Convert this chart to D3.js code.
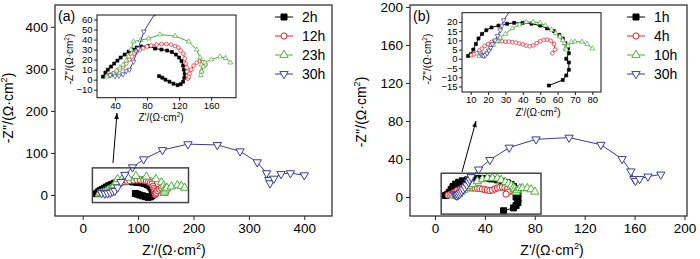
<!DOCTYPE html>
<html>
<head>
<meta charset="utf-8">
<script src="https://cdn.jsdelivr.net/npm/d3@7"></script>
<style>
  body { margin: 0; background: #fff; }
  svg { display: block; }
</style>
</head>
<body>
<div id="container"></div>
<script>
let w = 700;
let h = 259;
let font = "'Liberation Sans', Arial, sans-serif";

// ---- panel (a) data ----
let aLabels = ["2h", "12h", "23h", "30h"];
let a2h = [[25,3],[28,7],[31,10],[35,13],[39,16],[43,19],[47,22],[52,25],[57,28],[62,30],[67,32],[73,33],[82,33.5],[90,31],[98,30],[105,29],[111,27.5],[116,25],[120,22],[123,18.5],[125,14],[126,10],[127,6],[126.5,2],[125,-2],[122,-4.5],[118,-5.5],[113,-4],[108,-2],[103,0],[99,2],[95,3.5]];
let a12h = [[31,4.5],[34,5],[38,6.5],[42,8],[46,10],[50,13],[54,16],[58,20],[61,23],[64,26],[67,28],[71,30],[75,31.5],[80,33],[85,34],[92,35],[98,35.5],[104,35.5],[110,35],[115,33.5],[119,32],[122,29],[125,26],[127,21],[128.5,16],[129.5,12],[130,8],[130.5,4],[131,1],[132,3],[133,6],[135,10],[138,14],[142,17],[146,18.5],[150,17.5],[153,15]];
let a23h = [[30,3],[34,4],[38,6],[42,9],[46,12],[50,14.5],[54,19],[57,23],[60,30],[63,38],[72,39.5],[82,41],[96,45],[115,43.5],[132,38],[142,30],[146,22],[148,15],[148,9],[147,4.5],[148,8],[150,13],[152,17],[160,20],[171,23],[178,21.5],[184,17]];
let a30h = [[34,4.5],[40,3.5],[45,4],[50,5.5],[54,8.5],[58,10],[63,18],[69,31],[76,48],[90,66],[110,85],[144,107],[190,121],[243,119],[284,104],[315,78],[332,52],[336,36],[338,28],[345,39],[358,50],[375,52],[400,47]];
let aMainTicks = [0, 100, 200, 300, 400];
let aInsetXTicks = [40, 80, 120, 160];
let aInsetYTicks = [-10, 0, 10, 20, 30, 40, 50, 60];

// ---- panel (b) data ----
let bLabels = ["1h", "4h", "10h", "30h"];
let b1h = [[8.5,1.5],[10,2.5],[11.5,5],[13,8],[14.5,11],[16.5,13.5],[19,15.5],[22,17],[26,18],[31,19],[35,19.5],[40,19.5],[45,19],[50,18],[54,16.5],[58,15],[61,13],[63,11],[64.5,8.5],[66,5.5],[66.5,3],[65,0],[66.5,-2],[66.5,-6],[65,-9],[63,-11.5],[55,-14.5]];
let b4h = [[10.5,2],[12,2.5],[13.5,3],[15,4.5],[16.5,5.5],[18,7],[20,8],[22,9],[24,9.5],[26,9.5],[28,9.5],[30,9.3],[32,9.3],[34,9],[36,8.8],[38,8.3],[40,7.8],[42,7.2],[44,6.8],[46,7.3],[48,8.5],[50,9.5],[52,10.2],[54,10.4],[56,9.8],[58,8],[58.5,5],[57,3]];
let b10h = [[15,1.5],[17,1.5],[19,3],[21,5.5],[23,7.5],[25,9.5],[27,11.5],[30,13.5],[34,16.5],[38,18.5],[42,20],[46,20],[50,19.5],[53,18],[56.5,15.7],[59,14],[61.3,12],[63,10],[64,8.5],[64.5,5.5],[65,5],[66,7],[68,9],[70,9.3],[74,9.2],[77,8],[80,5.5]];
let b30h = [[15.5,3],[16.5,2],[17.5,1.5],[18.5,2],[19.5,3],[20.5,4.5],[21.5,6],[22.5,8],[24,10],[25.5,12.5],[27,15.5],[28,18],[29,21],[35,29],[44,39],[59.5,52],[81,60.7],[107.5,62.5],[133,55],[150,40],[157,27],[159.5,19],[160.7,17],[164,19],[170.7,21.6],[181,23.7]];
let bMainTicks = [0, 40, 80, 120, 160, 200];
let bInsetXTicks = [10, 20, 30, 40, 50, 60, 70, 80];
let bInsetYTicks = [-15, -10, -5, 0, 5, 10, 15, 20];

let colors = ["#000000", "#ee1c24", "#4caf3a", "#3b3b9b"];
let symTypes = [d3.symbolSquare, d3.symbolCircle, d3.symbolTriangle, d3.symbolTriangle];
let bigSizes = [36, 30, 30, 30];
let smallSizes = [9, 11, 10, 10];

let viz = d3.select("#container").append("svg")
    .attr("width", w)
    .attr("height", h)
    .attr("font-family", font)
;

let clipCount = 0;

function drawSeries(g, data, i, x, y, big) {
  let line = d3.line().x(d => x(d[0])).y(d => y(d[1]));
  g.append("path")
      .datum(data)
      .attr("d", line)
      .attr("fill", "none")
      .attr("stroke", colors[i])
      .attr("stroke-width", 1)
  ;
  let sym = d3.symbol().type(symTypes[i]).size(big ? bigSizes[i] : smallSizes[i]);
  g.selectAll(null).data(data).enter()
    .append("path")
      .attr("d", sym)
      .attr("transform", d => "translate(" + x(d[0]) + "," + y(d[1]) + ")" + (i == 3 ? " rotate(180)" : ""))
      .attr("fill", i == 0 ? colors[0] : "white")
      .attr("stroke", colors[i])
      .attr("stroke-width", big ? 1 : 0.7)
  ;
}

// title like "Z'/(Ω·cm²)" with real superscript
function unitTitle(g, prefix, size, transform) {
  let t = g.append("text")
      .attr("transform", transform)
      .attr("text-anchor", "middle")
      .attr("font-size", size)
      .attr("fill", "#000")
  ;
  t.append("tspan").text(prefix + "/(Ω·cm");
  t.append("tspan").attr("dy", -size * 0.4).attr("font-size", size * 0.65).text("2");
  t.append("tspan").attr("dy", size * 0.4).text(")");
}

function axes(g, x, y, xTicks, yTicks, fs, tick, pad) {
  let r = x.range(), b = y.range();
  let gx = g.append("g")
      .attr("transform", "translate(0," + b[0] + ")")
      .call(d3.axisBottom(x).tickValues(xTicks).tickSize(tick).tickSizeOuter(0).tickPadding(pad));
  let gy = g.append("g")
      .attr("transform", "translate(" + r[0] + ",0)")
      .call(d3.axisLeft(y).tickValues(yTicks).tickSize(tick).tickSizeOuter(0).tickPadding(pad));
  [gx, gy].forEach(function(a) {
    a.attr("font-family", font).attr("font-size", fs);
    a.select(".domain").remove();
    a.selectAll("line").attr("stroke", "#222");
    a.selectAll("text").attr("fill", "#000");
  });
}

function clipRect(x, y) {
  let id = "clip" + (clipCount++);
  viz.append("clipPath").attr("id", id)
    .append("rect")
      .attr("x", x.range()[0]).attr("y", y.range()[1])
      .attr("width", x.range()[1] - x.range()[0])
      .attr("height", y.range()[0] - y.range()[1]);
  return "url(#" + id + ")";
}

function frame(g, x, y, color, sw) {
  g.append("rect")
      .attr("x", x.range()[0]).attr("y", y.range()[1])
      .attr("width", x.range()[1] - x.range()[0])
      .attr("height", y.range()[0] - y.range()[1])
      .attr("fill", "none")
      .attr("stroke", color)
      .attr("stroke-width", sw)
  ;
}

function drawPanel(p) {
  let g = viz.append("g");

  // main plot
  let x = d3.scaleLinear().domain(p.mainX).range([p.left, p.left + 277]);
  let y = d3.scaleLinear().domain(p.mainY).range([216, 5]);
  axes(g, x, y, p.mainTicks, p.mainTicks, 13.5, 4, 3);
  let dg = g.append("g").attr("clip-path", clipRect(x, y));
  p.series.forEach((s, i) => drawSeries(dg, s, i, x, y, true));
  frame(g, x, y, "#333", 1.3);

  // zoom box showing the inset range on the main axes
  g.append("rect")
      .attr("x", x(p.insetX[0])).attr("y", y(p.insetY[1]))
      .attr("width", x(p.insetX[1]) - x(p.insetX[0]))
      .attr("height", y(p.insetY[0]) - y(p.insetY[1]))
      .attr("fill", "none")
      .attr("stroke", "#444")
      .attr("stroke-width", 1.5)
  ;

  // arrow from box to inset
  g.append("line")
      .attr("x1", p.arrow[0]).attr("y1", p.arrow[1])
      .attr("x2", p.arrow[2]).attr("y2", p.arrow[3])
      .attr("stroke", "#000").attr("stroke-width", 1)
  ;
  let ang = Math.atan2(p.arrow[3] - p.arrow[1], p.arrow[2] - p.arrow[0]) * 180 / Math.PI;
  g.append("path")
      .attr("d", "M0,0L-6,-2.3L-6,2.3Z")
      .attr("transform", "translate(" + p.arrow[2] + "," + p.arrow[3] + ") rotate(" + ang + ")")
      .attr("fill", "#000")
  ;

  // inset
  let ix = d3.scaleLinear().domain(p.insetX).range(p.insetPxX);
  let iy = d3.scaleLinear().domain(p.insetY).range(p.insetPxY);
  axes(g, ix, iy, p.insetXTicks, p.insetYTicks, 9.5, 3, 1.5);
  let ig = g.append("g").attr("clip-path", clipRect(ix, iy));
  p.series.forEach((s, i) => drawSeries(ig, s, i, ix, iy, false));
  frame(g, ix, iy, "#111", 1);

  // titles
  unitTitle(g, "Z'", 14, "translate(" + p.xTitle[0] + "," + p.xTitle[1] + ")");
  unitTitle(g, "-Z''", 14, "translate(" + p.yTitle[0] + "," + p.yTitle[1] + ") rotate(-90)");
  unitTitle(g, "Z'", 10, "translate(" + p.ixTitle[0] + "," + p.ixTitle[1] + ")");
  unitTitle(g, "-Z''", 10, "translate(" + p.iyTitle[0] + "," + p.iyTitle[1] + ") rotate(-90)");

  g.append("text")
      .attr("x", p.tag[1]).attr("y", 21)
      .attr("font-size", 14)
      .text(p.tag[0])
  ;

  // legend
  p.labels.forEach(function(lab, i) {
    let ly = 17 + i * 19;
    let lg = g.append("g");
    lg.append("line")
        .attr("x1", p.legendX).attr("x2", p.legendX + 18)
        .attr("y1", ly).attr("y2", ly)
        .attr("stroke", colors[i]).attr("stroke-width", 1);
    lg.append("path")
        .attr("d", d3.symbol().type(symTypes[i]).size(bigSizes[i]))
        .attr("transform", "translate(" + (p.legendX + 9) + "," + ly + ")" + (i == 3 ? " rotate(180)" : ""))
        .attr("fill", i == 0 ? colors[0] : "white")
        .attr("stroke", colors[i]).attr("stroke-width", 1);
    lg.append("text")
        .attr("x", p.legendX + 27).attr("y", ly + 5)
        .attr("font-size", 14)
        .text(lab);
  });
}

drawPanel({
  tag: ["(a)", 58],
  series: [a2h, a12h, a23h, a30h],
  labels: aLabels,
  left: 55,
  mainX: [-50, 450],
  mainY: [-50, 452],
  mainTicks: aMainTicks,
  insetX: [17.5, 191],
  insetY: [-18, 64.5],
  insetPxX: [97, 236],
  insetPxY: [97.7, 15],
  insetXTicks: aInsetXTicks,
  insetYTicks: aInsetYTicks,
  arrow: [113, 163, 117, 113],
  xTitle: [174, 255],
  yTitle: [13, 108],
  ixTitle: [161, 121],
  iyTitle: [73, 59],
  legendX: 275
});

drawPanel({
  tag: ["(b)", 413],
  series: [b1h, b4h, b10h, b30h],
  labels: bLabels,
  left: 410,
  mainX: [-20, 202],
  mainY: [-20, 202],
  mainTicks: bMainTicks,
  insetX: [5, 85],
  insetY: [-18, 25],
  insetPxX: [462, 601],
  insetPxY: [92, 12.7],
  insetXTicks: bInsetXTicks,
  insetYTicks: bInsetYTicks,
  arrow: [462, 172, 476, 121],
  xTitle: [552, 255],
  yTitle: [366, 112],
  ixTitle: [538, 116],
  iyTitle: [431, 59],
  legendX: 627
});
</script>
</body>
</html>
